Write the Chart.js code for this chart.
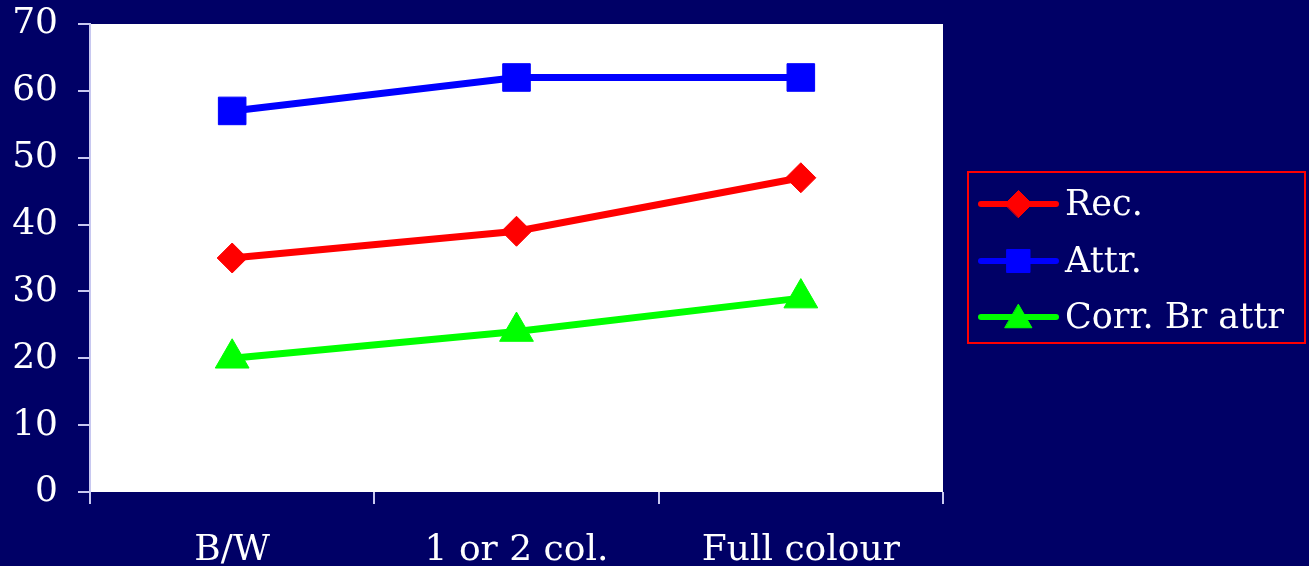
<!DOCTYPE html>
<html>
<head>
<meta charset="utf-8">
<script src="https://cdn.jsdelivr.net/npm/chart.js@4/dist/chart.umd.min.js"></script>
<style>
  html, body { margin: 0; padding: 0; background: #000066; }
  #wrap { width: 1309px; height: 566px; }
</style>
</head>
<body>
<div id="wrap"><canvas id="c" width="1309" height="566"></canvas></div>
<script>
// Categories and series
const categories = ['B/W', '1 or 2 col.', 'Full colour'];
const recValues = [35, 39, 47];
const attrValues = [57, 62, 62];
const corrValues = [20, 24, 29];
const seriesLabels = ['Rec.', 'Attr.', 'Corr. Br attr'];
const yTicks = [0, 10, 20, 30, 40, 50, 60, 70];

const NAVY = '#000066';
const AXIS = '#c8c8f0';
const FONT = 'DejaVu Serif';

Chart.defaults.font.family = FONT;
Chart.defaults.font.size = 36;
Chart.defaults.color = '#ffffff';

// Paints the navy page and the white plot area
const backdrop = {
  id: 'backdrop',
  beforeDraw(chart) {
    const { ctx, chartArea: a } = chart;
    ctx.save();
    ctx.fillStyle = NAVY;
    ctx.fillRect(0, 0, chart.width, chart.height);
    ctx.fillStyle = '#ffffff';
    ctx.fillRect(a.left, a.top, a.right - a.left, a.bottom - a.top);
    ctx.restore();
  }
};

// Boxed legend on the right: line sample with marker, then the series name
const boxedLegend = {
  id: 'boxedLegend',
  afterDraw(chart) {
    const ctx = chart.ctx;
    const box = { x: 968, y: 172, w: 337, h: 171 };
    ctx.save();
    ctx.strokeStyle = '#ff0000';
    ctx.lineWidth = 2;
    ctx.strokeRect(box.x, box.y, box.w, box.h);
    const rows = [204, 261, 317];
    const legendMarks = [
      { pointStyle: 'rectRot', radius: 13.5 },
      { pointStyle: 'rect', radius: 16.3 },
      { pointStyle: 'triangle', radius: 15.5 }
    ];
    chart.data.datasets.forEach((ds, i) => {
      const y = rows[i];
      ctx.strokeStyle = ds.borderColor;
      ctx.lineWidth = 6;
      ctx.lineCap = 'round';
      ctx.beginPath();
      ctx.moveTo(981, y);
      ctx.lineTo(1056, y);
      ctx.stroke();
      ctx.fillStyle = ds.borderColor;
      ctx.strokeStyle = ds.borderColor;
      ctx.lineWidth = 1;
      Chart.helpers.drawPoint(ctx, {
        pointStyle: legendMarks[i].pointStyle,
        radius: legendMarks[i].radius,
        rotation: 0,
        borderWidth: 1
      }, 1018.5, y + (legendMarks[i].pointStyle === 'triangle' ? 3 : 0));
      ctx.fillStyle = '#ffffff';
      ctx.font = '35px "' + FONT + '"';
      ctx.textAlign = 'left';
      ctx.textBaseline = 'middle';
      ctx.fillText(ds.label, 1065, y + 2);
    });
    ctx.restore();
  }
};

new Chart(document.getElementById('c'), {
  type: 'line',
  data: {
    labels: categories,
    datasets: [
      {
        label: seriesLabels[0], data: recValues,
        borderColor: '#ff0000', backgroundColor: '#ff0000',
        borderWidth: 7, pointStyle: 'rectRot', pointRadius: 15,
        pointBorderWidth: 1, pointHoverRadius: 15
      },
      {
        label: seriesLabels[1], data: attrValues,
        borderColor: '#0000ff', backgroundColor: '#0000ff',
        borderWidth: 7, pointStyle: 'rect', pointRadius: 19.5,
        pointBorderWidth: 1, pointHoverRadius: 19.5
      },
      {
        label: seriesLabels[2], data: corrValues,
        borderColor: '#00ff00', backgroundColor: '#00ff00',
        borderWidth: 7, pointStyle: 'triangle', pointRadius: 19.5,
        pointBorderWidth: 1, pointHoverRadius: 19.5
      }
    ]
  },
  options: {
    responsive: false,
    animation: false,
    events: [],
    layout: { padding: { top: 24, right: 366, left: 0, bottom: 0 } },
    plugins: {
      legend: { display: false },
      tooltip: { enabled: false }
    },
    scales: {
      x: {
        offset: true,
        grid: {
          offset: true, drawOnChartArea: false, drawTicks: true,
          tickLength: 12, color: AXIS, lineWidth: 2
        },
        border: { display: false },
        ticks: { color: '#ffffff', padding: 25, maxRotation: 0, font: { size: 36 } },
        afterFit(scale) {
          scale.height = 74;
          scale.paddingLeft = 0;
          scale.paddingRight = 0;
        }
      },
      y: {
        min: 0, max: 70,
        afterBuildTicks(scale) { scale.ticks = yTicks.map(v => ({ value: v })); },
        grid: {
          drawOnChartArea: false, drawTicks: true,
          tickLength: 12, color: AXIS, lineWidth: 2
        },
        border: { display: true, color: AXIS, width: 2 },
        ticks: { color: '#ffffff', padding: 20, font: { size: 36 } },
        afterFit(scale) {
          scale.width = 90;
          scale.paddingTop = 0;
          scale.paddingBottom = 0;
        }
      }
    }
  },
  plugins: [backdrop, boxedLegend]
});
</script>
</body>
</html>
